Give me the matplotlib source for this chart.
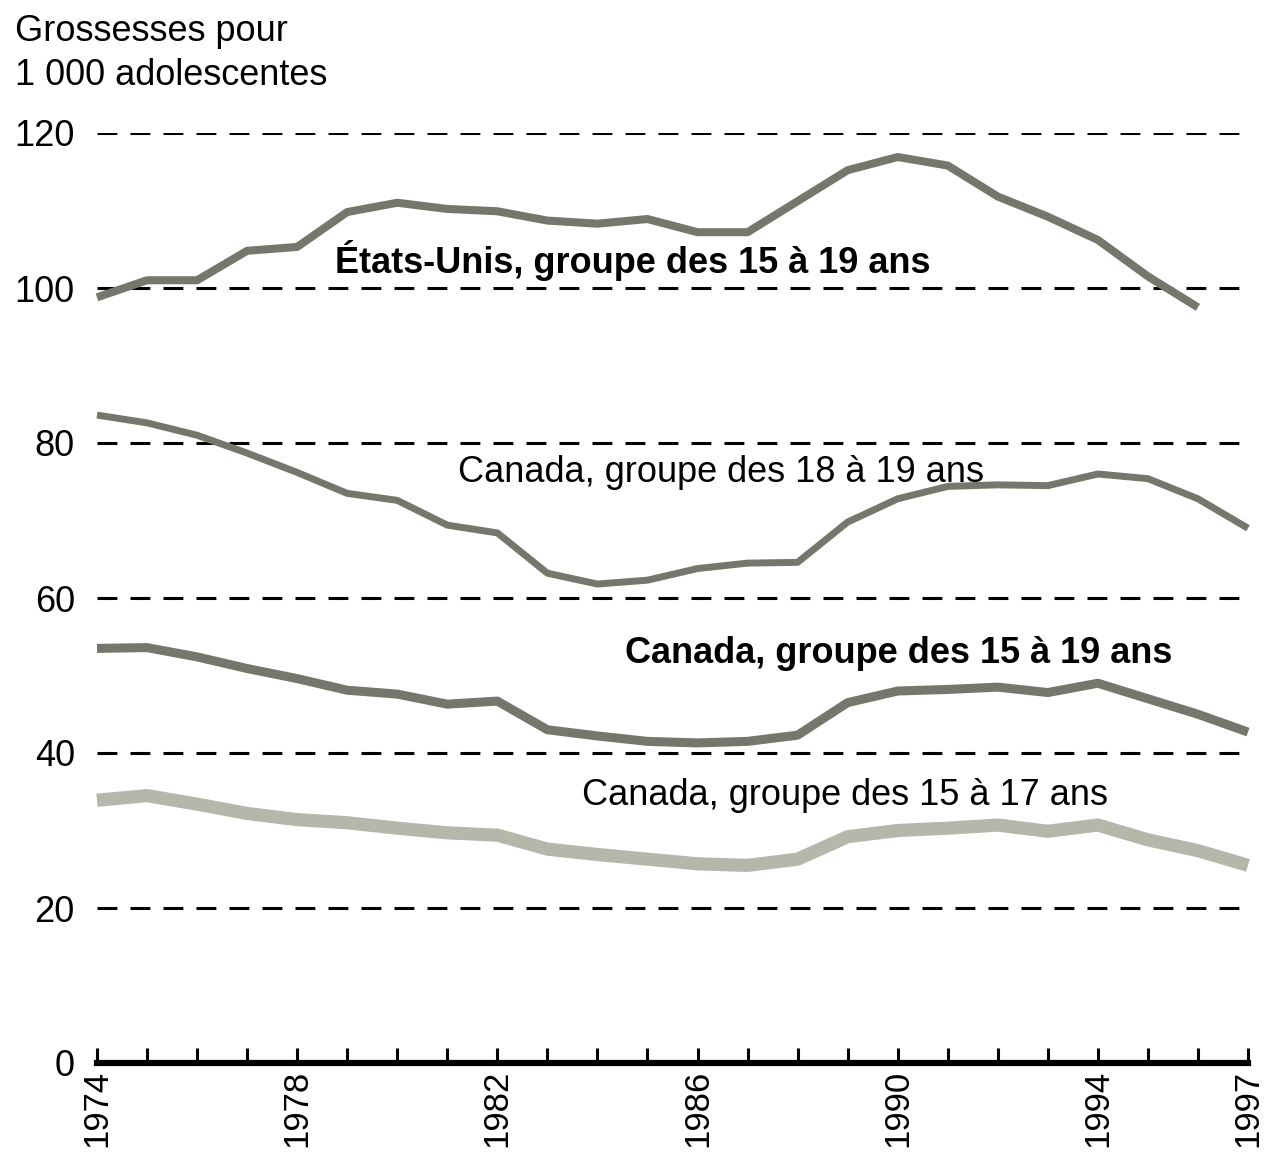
import matplotlib.pyplot as plt
import numpy as np
from matplotlib.ticker import FixedLocator, MultipleLocator

FONT = ['Liberation Sans Narrow', 'Liberation Sans', 'DejaVu Sans']
plt.rcParams['font.family'] = FONT

years = list(range(1974, 1998))
us_15_19 = [98.8, 101.0, 101.0, 104.8, 105.3, 109.8, 111.0, 110.2, 109.9, 108.7,
            108.3, 108.9, 107.2, 107.2, 111.2, 115.2, 116.9, 115.8, 111.8, 109.2,
            106.2, 101.5, 97.5]
ca_18_19 = [83.6, 82.6, 81.0, 78.7, 76.2, 73.5, 72.6, 69.4, 68.4, 63.2,
            61.8, 62.3, 63.8, 64.5, 64.6, 69.8, 72.8, 74.4, 74.6, 74.5,
            76.0, 75.4, 72.8, 69.0]
ca_15_19 = [53.5, 53.6, 52.4, 50.9, 49.6, 48.1, 47.6, 46.3, 46.7, 43.0,
            42.2, 41.5, 41.3, 41.5, 42.3, 46.5, 48.0, 48.2, 48.5, 47.8,
            49.0, 47.0, 45.0, 42.7]
ca_15_17 = [33.9, 34.5, 33.4, 32.2, 31.4, 31.0, 30.3, 29.7, 29.4, 27.6,
            26.9, 26.3, 25.7, 25.5, 26.3, 29.2, 30.0, 30.3, 30.7, 29.9,
            30.7, 28.8, 27.4, 25.5]

label_years = [1974, 1978, 1982, 1986, 1990, 1994, 1997]
y_ticks = [0, 20, 40, 60, 80, 100, 120]

# (text, x, y, bold)
series_labels = [
    ('États-Unis, groupe des 15 à 19 ans', 1978.76, 101.9, True),
    ('Canada, groupe des 18 à 19 ans', 1981.21, 75.0, False),
    ('Canada, groupe des 15 à 19 ans', 1984.55, 51.6, True),
    ('Canada, groupe des 15 à 17 ans', 1983.69, 33.3, False),
]

dark = '#76766c'
light = '#b6b6aa'

fig = plt.figure(figsize=(12.76, 11.56), dpi=100)
ax = fig.add_axes([97 / 1276, 93 / 1156, 1151 / 1276, 930 / 1156])

line_kw = dict(solid_capstyle='butt', solid_joinstyle='round', clip_on=False)
ax.plot(years[:len(us_15_19)], us_15_19, color=dark, lw=5.8, **line_kw)
ax.plot(years, ca_18_19, color=dark, lw=5.0, **line_kw)
ax.plot(years, ca_15_19, color=dark, lw=6.5, **line_kw)
ax.plot(years, ca_15_17, color=light, lw=9.5, **line_kw)

for text, x, y, bold in series_labels:
    ax.text(x, y, text, fontsize=26, fontweight='bold' if bold else 'normal',
            ha='left', va='baseline', color='black')

ax.set_xlim(1974, 1997)
ax.set_ylim(0, 120)

ax.yaxis.grid(True, color='black', lw=2.2, linestyle=(0, (6.5, 4.3)))
ax.set_axisbelow(True)

for side in ['top', 'right', 'left']:
    ax.spines[side].set_visible(False)
ax.spines['bottom'].set_linewidth(4.5)
ax.spines['bottom'].set_capstyle('projecting')

ax.xaxis.set_major_locator(FixedLocator(label_years))
ax.xaxis.set_minor_locator(MultipleLocator(1))
ax.set_xticklabels([str(y) for y in label_years], rotation=90, fontsize=25)
ax.tick_params(axis='x', which='both', direction='in', length=11, width=2.2, pad=5)

ax.set_yticks(y_ticks)
ax.set_yticklabels([str(v) for v in y_ticks], fontsize=26)
ax.tick_params(axis='y', length=0, pad=16)

fig.text(15 / 1276, 1 - 14 / 1156, 'Grossesses pour\n1 000 adolescentes', fontsize=26,
         ha='left', va='top', linespacing=1.32)

fig.savefig('out.png', dpi=100)
